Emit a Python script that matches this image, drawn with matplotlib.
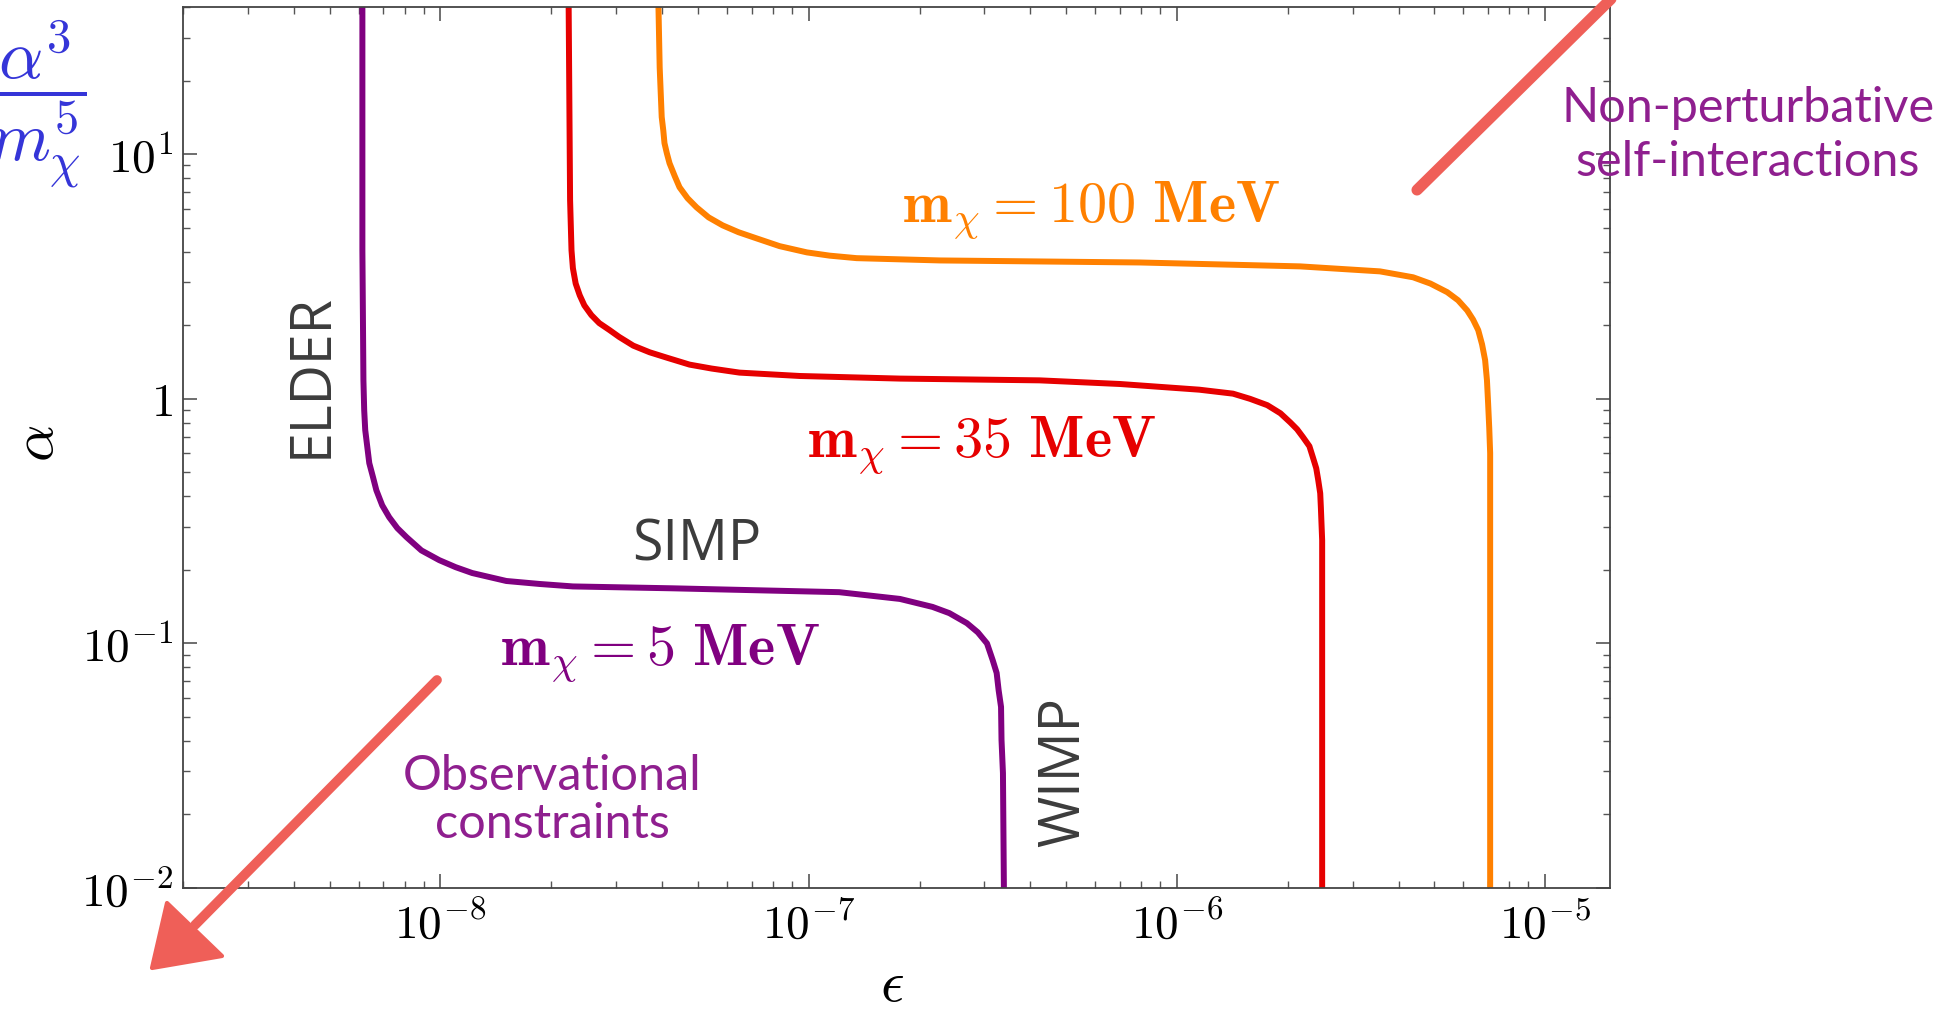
import numpy as np
import matplotlib.pyplot as plt
from matplotlib.ticker import LogLocator, FuncFormatter, NullFormatter
from matplotlib.lines import Line2D
from matplotlib.patches import Polygon

plt.rcParams['mathtext.fontset'] = 'cm'

# curves: epsilon vs alpha for three DM masses
eps_5 = [6.14e-9, 6.14e-9, 6.18e-9, 6.21e-9, 6.25e-9, 6.41e-9, 6.56e-9, 6.70e-9,
         6.95e-9, 7.26e-9, 7.64e-9, 8.09e-9, 8.88e-9, 9.93e-9, 1.10e-8, 1.22e-8,
         1.51e-8, 1.86e-8, 2.29e-8, 4.27e-8, 1.21e-7, 1.77e-7, 2.17e-7, 2.41e-7,
         2.69e-7, 2.88e-7, 3.05e-7, 3.16e-7, 3.24e-7, 3.28e-7, 3.33e-7, 3.34e-7,
         3.37e-7, 3.39e-7]
alpha_5 = [40, 4.05, 1.19, 0.897, 0.745, 0.546, 0.479, 0.423,
           0.367, 0.328, 0.296, 0.272, 0.240, 0.219, 0.205, 0.194,
           0.180, 0.175, 0.171, 0.168, 0.162, 0.152, 0.141, 0.133,
           0.121, 0.111, 0.100, 0.0855, 0.0757, 0.0644, 0.0550, 0.0403,
           0.0295, 0.01]

eps_35 = [2.23e-8, 2.25e-8, 2.27e-8, 2.29e-8, 2.33e-8, 2.39e-8, 2.46e-8, 2.57e-8,
          2.70e-8, 2.88e-8, 3.06e-8, 3.34e-8, 3.70e-8, 4.14e-8, 4.75e-8, 5.45e-8,
          6.49e-8, 9.46e-8, 1.77e-7, 4.24e-7, 7.0e-7, 1.15e-6, 1.42e-6, 1.58e-6,
          1.76e-6, 1.91e-6, 2.03e-6, 2.12e-6, 2.20e-6, 2.29e-6, 2.34e-6, 2.39e-6,
          2.42e-6, 2.45e-6, 2.46e-6, 2.48e-6, 2.48e-6, 2.48e-6]
alpha_35 = [40, 6.49, 4.05, 3.42, 2.96, 2.65, 2.41, 2.20,
            2.04, 1.91, 1.79, 1.65, 1.55, 1.47, 1.38, 1.33,
            1.28, 1.24, 1.21, 1.19, 1.15, 1.09, 1.05, 1.00,
            0.942, 0.873, 0.802, 0.751, 0.697, 0.640, 0.577, 0.520,
            0.465, 0.411, 0.360, 0.264, 0.194, 0.01]

eps_100 = [3.91e-8, 3.94e-8, 3.99e-8, 4.03e-8, 4.06e-8, 4.12e-8, 4.19e-8, 4.33e-8,
           4.46e-8, 4.69e-8, 4.96e-8, 5.35e-8, 5.84e-8, 6.45e-8, 7.22e-8, 8.34e-8,
           9.89e-8, 1.14e-7, 1.35e-7, 2.27e-7, 7.93e-7, 2.16e-6, 3.56e-6, 4.38e-6,
           4.88e-6, 5.42e-6, 5.80e-6, 6.14e-6, 6.37e-6, 6.58e-6, 6.74e-6, 6.87e-6,
           6.95e-6, 7.00e-6, 7.05e-6, 7.09e-6, 7.09e-6]
alpha_100 = [40, 22.6, 14.2, 12.5, 11.1, 10.1, 9.19, 8.13,
             7.33, 6.61, 6.07, 5.52, 5.12, 4.80, 4.53, 4.21,
             3.97, 3.85, 3.76, 3.68, 3.61, 3.48, 3.32, 3.14,
             2.96, 2.73, 2.53, 2.30, 2.11, 1.91, 1.67, 1.44,
             1.19, 0.959, 0.759, 0.600, 0.01]

W, H = 1957, 1010
def px(x, y):
    return (x / W, 1 - y / H)

fig = plt.figure(figsize=(W / 100, H / 100), dpi=100)
ax = fig.add_axes([183 / W, 1 - 888 / H, (1610 - 183) / W, (888 - 7) / H])

ax.plot(eps_5, alpha_5, color='#800080', lw=4.3)
ax.plot(eps_35, alpha_35, color='#e60000', lw=4.3)
ax.plot(eps_100, alpha_100, color='#ff8000', lw=4.3)

ax.set_xscale('log')
ax.set_yscale('log')
ax.set_xlim(2e-9, 1.5e-5)
ax.set_ylim(0.01, 40)

def fmt(v, pos):
    e = int(round(np.log10(v)))
    if e == 0:
        return r'$1$'
    return r'$10^{%d}$' % e

for a in (ax.xaxis, ax.yaxis):
    a.set_major_locator(LogLocator(base=10))
    a.set_minor_locator(LogLocator(base=10, subs=np.arange(2, 10)))
    a.set_major_formatter(FuncFormatter(fmt))
    a.set_minor_formatter(NullFormatter())

ax.tick_params(which='both', direction='in', top=True, right=True,
               color='#555555', labelsize=34)
ax.tick_params(which='major', length=10, width=1.2)
ax.tick_params(which='minor', length=5, width=1.0)
ax.tick_params(axis='x', pad=10)
ax.tick_params(axis='y', pad=7)
for s in ax.spines.values():
    s.set_color('#444444')
    s.set_linewidth(1.3)

# curve labels
ax.text(0.504, 0.756, r'$\mathbf{m}_{\chi} = \mathbf{100\ MeV}$', transform=ax.transAxes,
        color='#ff8000', fontsize=42, ha='left', va='baseline')
ax.text(0.437, 0.489, r'$\mathbf{m}_{\chi} = \mathbf{35\ MeV}$', transform=ax.transAxes,
        color='#e60000', fontsize=42, ha='left', va='baseline')
ax.text(0.222, 0.253, r'$\mathbf{m}_{\chi} = \mathbf{5\ MeV}$', transform=ax.transAxes,
        color='#800080', fontsize=42, ha='left', va='baseline')

gray = '#3c3c3c'
ax.text(0.360, 0.388, 'SIMP', transform=ax.transAxes, color=gray, fontsize=40,
        family='Open Sans', ha='center', va='center')
ax.text(0.0904, 0.582, 'ELDER', transform=ax.transAxes, color=gray, fontsize=40,
        family='Open Sans', ha='center', va='center', rotation=90)
ax.text(0.618, 0.132, 'WIMP', transform=ax.transAxes, color=gray, fontsize=40,
        family='Open Sans', ha='center', va='center', rotation=90)

# axis labels
fig.text(*px(37, 443), r'$\alpha$', fontsize=42, rotation=90, ha='center', va='center')
fig.text(*px(892, 984), r'$\epsilon$', fontsize=42, ha='center', va='center')

# blue fraction top left
fig.text(*px(38, 105), r'$\dfrac{\alpha^3}{m_\chi^5}$', fontsize=50, color='#3535d8',
         ha='center', va='center')

# notes
purple = '#8f1f8f'
fig.text(*px(1748, 135), 'Non-perturbative\nself-interactions', fontsize=35,
         family='Lato', color=purple, ha='center', va='center', linespacing=1.3)
fig.text(*px(552, 800), 'Observational\nconstraints', fontsize=35,
         family='Lato', color=purple, ha='center', va='center', linespacing=1.1)

# chalk arrows
chalk = '#ef5f58'
fig.add_artist(Line2D(*zip(px(1417, 190), px(1615, -5)), transform=fig.transFigure,
                      color=chalk, lw=8, solid_capstyle='round'))
fig.add_artist(Line2D(*zip(px(437, 680), px(195, 925)), transform=fig.transFigure,
                      color=chalk, lw=7, solid_capstyle='round'))
fig.add_artist(Polygon([px(167, 903), px(222, 956), px(152, 968)], closed=True,
                       transform=fig.transFigure, facecolor=chalk, edgecolor=chalk, lw=3,
                       joinstyle='round'))

fig.savefig('out.png', dpi=100)
